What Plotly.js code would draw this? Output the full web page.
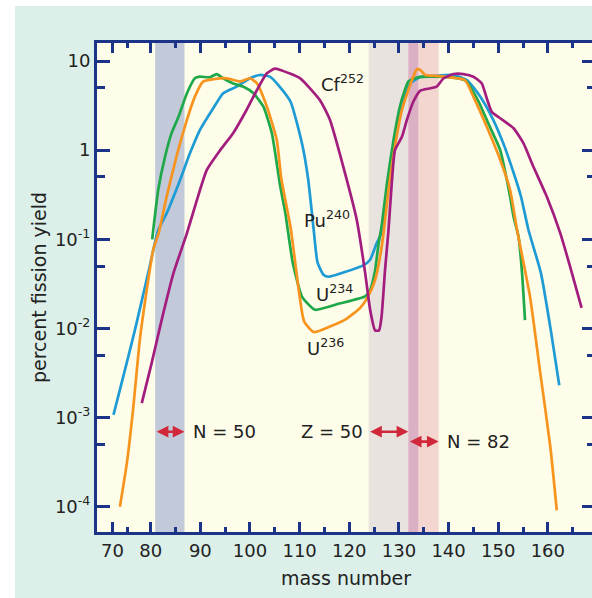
<!DOCTYPE html>
<html>
<head>
<meta charset="utf-8">
<script src="https://cdn.plot.ly/plotly-3.0.1.min.js"></script>
<style>
html, body { margin:0; padding:0; background:#ffffff; overflow:hidden; width:592px; height:598px; }
#chart { position:absolute; left:15px; top:6px; width:600px; height:592px; }
</style>
</head>
<body>
<div id="chart"></div>
<script>
// ---- data (mass number vs percent fission yield) ----
const massPu240 = [72.5, 74.8, 76.8, 79.5, 81.5, 83.2, 85.9, 87.9, 89.9, 92.6, 94.6, 97.3, 100, 102, 104, 106, 108.2, 110.5, 111.7, 112.8, 113.6, 114.8, 115.8, 122.8, 124.2, 125.5, 126.3, 128.2, 129.9, 131.2, 132.3, 134.3, 137, 141, 143.7, 146.4, 149, 151, 153, 154.6, 156.1, 158.6, 160.6, 162.3];
const yieldPu240 = [0.00107, 0.0034, 0.0095, 0.042, 0.126, 0.195, 0.46, 0.92, 1.68, 2.95, 4.35, 5.15, 6.4, 6.97, 6.67, 5.13, 3.47, 1.17, 0.48, 0.133, 0.055, 0.040, 0.038, 0.051, 0.059, 0.090, 0.112, 0.55, 2.0, 3.98, 5.6, 6.6, 6.8, 6.97, 6.1, 3.98, 2.19, 1.2, 0.58, 0.3, 0.127, 0.042, 0.0095, 0.0023];

const massU234 = [80.3, 81.5, 82.9, 84.2, 85.6, 87.3, 88.9, 89.9, 91.9, 93.3, 94.6, 96.6, 98.7, 100.7, 102.7, 104.4, 106.1, 107.1, 108.6, 110.5, 113.1, 118, 123.2, 124.2, 125.2, 125.9, 126.5, 127.6, 128.9, 130.2, 131.2, 131.9, 134, 140, 143.5, 146, 148, 150.4, 152.4, 153.1, 154.1, 154.8, 155.4];
const yieldU234 = [0.1, 0.355, 0.85, 1.55, 2.37, 4.35, 6.4, 6.67, 6.56, 7.14, 6.4, 5.6, 5.15, 4.35, 3.07, 1.55, 0.39, 0.2, 0.055, 0.0226, 0.0162, 0.019, 0.0229, 0.0269, 0.0447, 0.089, 0.138, 0.427, 1.29, 3.09, 4.73, 5.9, 6.6, 6.6, 6.0, 3.55, 2.0, 1.0, 0.3, 0.178, 0.107, 0.042, 0.0124];

const massU236 = [73.8, 75.2, 76.5, 77.8, 79.2, 80.5, 81.6, 83.2, 85.2, 87.3, 88.9, 90.6, 92.6, 95.3, 98, 100, 101.4, 103.4, 105.4, 106.3, 108.2, 109.8, 110.9, 112.8, 116.1, 119.5, 122.2, 123.8, 125.2, 126.2, 126.9, 127.9, 129.2, 130.6, 131.9, 132.9, 133.6, 134.3, 135.3, 137.6, 140.3, 143.3, 145, 147.7, 150.4, 152.4, 153.8, 156.4, 158.4, 160.5, 161.8];
const yieldU236 = [0.0001, 0.00031, 0.00132, 0.0074, 0.027, 0.076, 0.117, 0.30, 0.85, 2.19, 3.98, 5.9, 6.24, 6.4, 5.9, 6.4, 5.6, 3.07, 1.3, 0.48, 0.133, 0.0275, 0.012, 0.0091, 0.0105, 0.0129, 0.017, 0.0229, 0.0349, 0.0638, 0.117, 0.355, 1.1, 2.82, 4.73, 6.67, 8.07, 7.94, 6.97, 6.8, 6.56, 6.12, 3.98, 1.83, 0.78, 0.357, 0.127, 0.0229, 0.0034, 0.00047, 0.000091];

const massCf252 = [78.2, 80.2, 82.2, 84.6, 87.3, 89.3, 91.3, 94, 96.6, 99.3, 101.4, 103.4, 105, 106.1, 110.1, 114.1, 116.1, 118.8, 121.5, 123.2, 124.2, 125.2, 126.0, 126.5, 127.2, 127.9, 128.6, 129.2, 130.6, 131.6, 132.9, 134.3, 136.3, 137.6, 139, 141, 143, 145, 146.7, 147.7, 148.7, 150.4, 153.1, 155.1, 157.1, 159.8, 162.5, 164.5, 166.8];
const yieldCf252 = [0.00145, 0.0041, 0.0124, 0.042, 0.117, 0.275, 0.60, 1.0, 1.55, 2.82, 4.73, 7.28, 8.2, 7.94, 6.4, 3.63, 2.19, 0.65, 0.166, 0.042, 0.0162, 0.0095, 0.0095, 0.0135, 0.045, 0.127, 0.46, 1.0, 1.41, 2.18, 3.49, 4.65, 4.94, 5.15, 6.4, 7.14, 7.14, 6.67, 5.6, 3.8, 2.69, 2.28, 1.76, 1.19, 0.65, 0.30, 0.117, 0.049, 0.017];

// curve labels
const curveLabels = ['Cf<sup>252</sup>', 'Pu<sup>240</sup>', 'U<sup>234</sup>', 'U<sup>236</sup>'];
const curveLabelMass = [113.9, 110.4, 112.8, 111.1];
const curveLabelLogYield = [0.753, -0.778, -1.603, -2.214];

// closed-shell bands
const bandNames = ['N = 50', 'Z = 50', 'N = 82'];
const bandLo = [80.9, 123.9, 131.9];
const bandHi = [86.8, 131.9, 138.0];
const bandArrowLogYield = [-3.159, -3.159, -3.27];
const overlapLo = 131.9, overlapHi = 133.9;

// axis ticks
const xTickVals = [72.3, 80, 90, 100, 110, 120, 130, 140, 150, 160];
const xTickText = ['70', '80', '90', '100', '110', '120', '130', '140', '150', '160'];
const xMinorVals = [75.3, 85, 95, 105, 115, 125, 135, 145, 155, 165];
const yTickVals = [10, 1, 0.1, 0.01, 0.001, 0.0001];
const yTickText = ['10', '1', '10<sup>-1</sup>', '10<sup>-2</sup>', '10<sup>-3</sup>', '10<sup>-4</sup>'];
const yMinorVals = [5, 0.5, 0.05, 0.005, 0.0005];

// ---- styles ----
const navy = '#1c3487';
const FONT = 'DejaVu Sans, Verdana, sans-serif';
const txt = '#222222';
const lw = 2.7;

const traces = [
  {x: massPu240, y: yieldPu240, color: '#1e9bd4'},
  {x: massU234, y: yieldU234, color: '#1fa84a'},
  {x: massU236, y: yieldU236, color: '#f7941e'},
  {x: massCf252, y: yieldCf252, color: '#a21d7e'}
].map(t => ({type: 'scatter', mode: 'lines', x: t.x, y: t.y,
  line: {color: t.color, width: lw, shape: 'spline', smoothing: 0.5}, hoverinfo: 'skip'}));

const bandColors = ['#c2c9d9', '#e9e3df', '#f3d6cf'];
const shapes = bandLo.map((lo, i) => ({type: 'rect', xref: 'x', yref: 'paper', x0: lo, x1: bandHi[i], y0: 0, y1: 1,
  fillcolor: bandColors[i], line: {width: 0}, layer: 'below'}));
shapes.push({type: 'rect', xref: 'x', yref: 'paper', x0: overlapLo, x1: overlapHi, y0: 0, y1: 1,
  fillcolor: '#dbb0c5', line: {width: 0}, layer: 'below'});

const annotations = [];
curveLabels.forEach((t, i) => annotations.push({text: t, x: curveLabelMass[i], y: curveLabelLogYield[i],
  xref: 'x', yref: 'y', xanchor: 'left', yanchor: 'middle', showarrow: false,
  font: {family: FONT, size: 18, color: txt}}));
bandNames.forEach((n, i) => {
  annotations.push({text: '', x: bandHi[i], y: bandArrowLogYield[i], ax: bandLo[i], ay: bandArrowLogYield[i],
    xref: 'x', yref: 'y', axref: 'x', ayref: 'y', showarrow: true, arrowside: 'end+start',
    arrowhead: 2, arrowsize: 0.9, arrowwidth: 2.6, arrowcolor: '#d0283a', standoff: 0, startstandoff: 0});
  const right = (n === 'Z = 50');
  annotations.push({text: n, x: right ? bandLo[i] - 0.8 : bandHi[i] + 1.3, y: bandArrowLogYield[i],
    xref: 'x', yref: 'y', xanchor: right ? 'right' : 'left', yanchor: 'middle', showarrow: false,
    font: {family: FONT, size: 18, color: txt}});
});

const layout = {
  width: 600, height: 592,
  margin: {l: 82, r: 20, t: 37, b: 66},
  paper_bgcolor: '#dcefe9',
  plot_bgcolor: '#fdfde9',
  showlegend: false,
  font: {family: FONT, size: 18, color: txt},
  xaxis: {
    range: [69.18, 169.5], showgrid: false, zeroline: false,
    showline: true, linewidth: 3, linecolor: navy, mirror: 'ticks',
    ticks: 'inside', ticklen: 10, tickwidth: 3, tickcolor: navy,
    tickmode: 'array', tickvals: xTickVals, ticktext: xTickText,
    tickfont: {family: FONT, size: 18, color: txt},
    minor: {tickmode: 'array', tickvals: xMinorVals, ticks: 'inside', ticklen: 5, tickwidth: 3, tickcolor: navy, showgrid: false},
    title: {text: 'mass number', font: {family: FONT, size: 19, color: txt}, standoff: 13}
  },
  yaxis: {
    type: 'log', range: [-4.284, 1.202], showgrid: false, zeroline: false,
    showline: true, linewidth: 3, linecolor: navy, mirror: 'ticks',
    ticks: 'inside', ticklen: 13, tickwidth: 3, tickcolor: navy,
    tickmode: 'array', tickvals: yTickVals, ticktext: yTickText,
    tickfont: {family: FONT, size: 18, color: txt},
    minor: {tickmode: 'array', tickvals: yMinorVals, ticks: 'inside', ticklen: 8, tickwidth: 3, tickcolor: navy, showgrid: false},
    title: {text: 'percent fission yield', font: {family: FONT, size: 19, color: txt}, standoff: 4}
  },
  shapes: shapes,
  annotations: annotations
};

Plotly.newPlot('chart', traces, layout, {displayModeBar: false, staticPlot: true});
</script>
</body>
</html>
